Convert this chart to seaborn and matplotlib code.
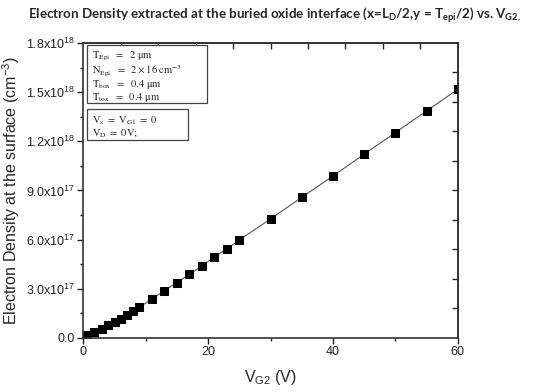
import numpy as np
import pandas as pd
import seaborn as sns
import matplotlib.pyplot as plt
from matplotlib.patches import Rectangle
from matplotlib.ticker import MultipleLocator, FuncFormatter

# data
vg2 = [0.6, 1.7, 3, 4, 5, 6, 7, 8, 9, 11, 13, 15, 17, 19, 21, 23, 25,
       30, 35, 40, 45, 50, 55, 60]
density = [0.18, 0.38, 0.57, 0.77, 0.98, 1.18, 1.42, 1.65, 1.88, 2.38, 2.89,
           3.38, 3.89, 4.39, 4.94, 5.43, 5.98, 7.26, 8.58, 9.88, 11.21,
           12.53, 13.85, 15.17]  # x1e17 cm^-3
box1_lines = [r"$\mathrm{T_{Epi}\ \ =\ \ 2\ \mu m}$",
              r"$\mathrm{N_{Epi}\ \ =\ \ 2\times16\ cm^{-3}}$",
              r"$\mathrm{T_{box}\ \ =\ \ 0.4\ \mu m}$",
              r"$\mathrm{T_{tox}\ \ =\ \ 0.4\ \mu m}$"]
box2_lines = [r"$\mathrm{V_s\ =\ V_{G1}\ =\ 0}$",
              r"$\mathrm{V_D\ =\ 0V;}$"]

df = pd.DataFrame({'vg2': vg2, 'n': np.array(density) * 1e17})

sns.set_style('ticks')
plt.rcParams['font.family'] = ['Liberation Sans', 'DejaVu Sans']
plt.rcParams['mathtext.fontset'] = 'custom'
plt.rcParams['mathtext.rm'] = 'Liberation Sans'
plt.rcParams['mathtext.it'] = 'Liberation Sans'

fig = plt.figure(figsize=(5.5, 3.92), dpi=100)
ax = fig.add_axes([0.1515, 0.1378, 0.6807, 0.7526])

sns.lineplot(data=df, x='vg2', y='n', ax=ax, color='#555555', linewidth=0.8,
             marker='s', markersize=5.5, markerfacecolor='black',
             markeredgecolor='black')

ax.set_xlim(0, 60)
ax.set_ylim(0, 1.8e18)
ax.xaxis.set_major_locator(MultipleLocator(20))
ax.xaxis.set_minor_locator(MultipleLocator(10))
ax.yaxis.set_major_locator(MultipleLocator(3e17))
ax.yaxis.set_minor_locator(MultipleLocator(1.5e17))


def fmt(v, pos):
    if abs(v) < 1:
        return '0.0'
    if v < 0:
        return ''
    e = int(np.floor(np.log10(v)))
    return r'%.1fx10$^{%d}$' % (v / 10 ** e, e)


ax.yaxis.set_major_formatter(FuncFormatter(fmt))
ax.tick_params(axis='both', which='major', direction='out', length=4,
               width=1, labelsize=9, colors='#222222', pad=2)
ax.tick_params(axis='both', which='minor', direction='out', length=2.5, width=1)
for s in ax.spines.values():
    s.set_linewidth(1.2)
    s.set_color('#333333')

# mirrored inward ticks on top and right
ax_top = ax.secondary_xaxis('top')
ax_top.set_xticks(np.arange(6, 60, 6))
ax_top.tick_params(direction='in', length=4, width=1, labeltop=False)
ax_right = ax.secondary_yaxis('right')
ax_right.set_yticks(np.arange(1.8e17, 1.8e18, 1.8e17))
ax_right.tick_params(direction='in', length=4, width=1, labelright=False)
for sec in (ax_top, ax_right):
    for s in sec.spines.values():
        s.set_linewidth(1.2)
        s.set_color('#333333')

ax.set_xlabel(r'V$_{G2}$ (V)', fontsize=11.5, labelpad=7)
ax.set_ylabel(r'Electron Density at the surface (cm$^{-3}$)', fontsize=11.5,
              labelpad=3)

fig.text(0.5, 0.962,
         r'Electron Density extracted at the buried oxide interface '
         r'(x=L$_\mathregular{D}$/2,y = T$_\mathregular{epi}$/2) vs. V$_\mathregular{G2.}$',
         ha='center', va='center', fontsize=9.6, fontweight='bold',
         family=['Lato', 'DejaVu Sans'], math_fontfamily='dejavusans')

# parameter boxes
for (x0, y0, w, h) in [(0.009, 0.797, 0.322, 0.197), (0.009, 0.671, 0.271, 0.105)]:
    ax.add_patch(Rectangle((x0, y0), w, h, transform=ax.transAxes,
                           facecolor='white', edgecolor='#444444',
                           linewidth=0.9, zorder=3))
ax.text(0.024, 0.976, '\n'.join(box1_lines), transform=ax.transAxes,
        ha='left', va='top', fontsize=7.6, linespacing=1.0,
        math_fontfamily='stix', zorder=4)
ax.text(0.024, 0.757, '\n'.join(box2_lines), transform=ax.transAxes,
        ha='left', va='top', fontsize=7.6, linespacing=0.95,
        math_fontfamily='stix', zorder=4)

fig.savefig('out.png', dpi=100)
